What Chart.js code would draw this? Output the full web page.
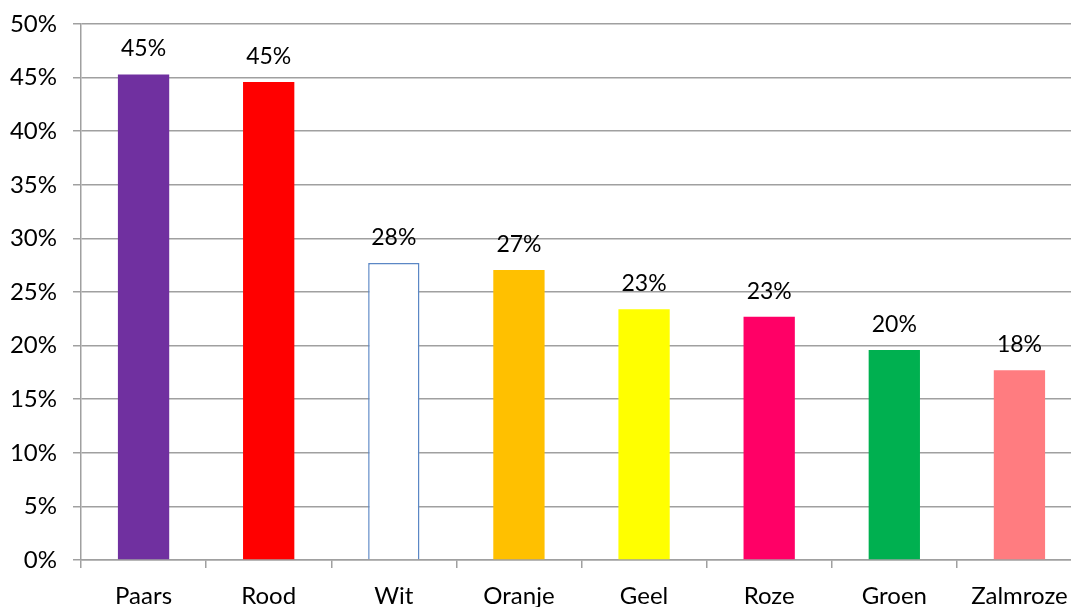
<!DOCTYPE html>
<html>
<head>
<meta charset="utf-8">
<script src="https://cdn.jsdelivr.net/npm/chart.js@4/dist/chart.umd.min.js"></script>
<style>
  html, body { margin: 0; padding: 0; background: #fff; overflow: hidden; }
  #wrap { width: 1082px; height: 607px; }
</style>
</head>
<body>
<div id="wrap"><canvas id="kleur-chart"></canvas></div>
<script>
var categories = ["Paars", "Rood", "Wit", "Oranje", "Geel", "Roze", "Groen", "Zalmroze"];
var percentages = [45.3, 44.6, 27.7, 27.05, 23.4, 22.7, 19.6, 17.7];
var valueLabels = ["45%", "45%", "28%", "27%", "23%", "23%", "20%", "18%"];
var barColors = ["#7030a0", "#ff0000", "#ffffff", "#ffc000", "#ffff00", "#ff0066", "#00b050", "#ff7c80"];
var borderColors = ["#7030a0", "#ff0000", "#5b87c5", "#ffc000", "#ffff00", "#ff0066", "#00b050", "#ff7c80"];

var font = "Lato, 'Open Sans', sans-serif";

// draws the percentage above each bar
var barLabels = {
  id: "barLabels",
  afterDatasetsDraw: function (chart) {
    var ctx = chart.ctx;
    var meta = chart.getDatasetMeta(0);
    ctx.save();
    ctx.fillStyle = "#000";
    ctx.font = "23px " + font;
    ctx.textAlign = "center";
    ctx.textBaseline = "alphabetic";
    meta.data.forEach(function (bar, i) {
      ctx.fillText(valueLabels[i], bar.x, bar.y - 18);
    });
    ctx.restore();
  },
};

var kleurChart = new Chart(document.getElementById("kleur-chart"), {
  type: "bar",
  data: {
    labels: categories,
    datasets: [
      {
        data: percentages,
        backgroundColor: barColors,
        borderColor: borderColors,
        borderWidth: function (c) { return c.dataIndex === 2 ? 1.5 : 0; },
        categoryPercentage: 1,
        barPercentage: 0.41,
      },
    ],
  },
  plugins: [barLabels],
  options: {
    responsive: true,
    maintainAspectRatio: false,
    animation: false,
    layout: { padding: { top: 24, right: 0, left: 0, bottom: 0 } },
    plugins: {
      legend: { display: false },
      tooltip: { enabled: false },
    },
    scales: {
      y: {
        min: 0,
        max: 50,
        ticks: {
          stepSize: 5,
          color: "#000",
          font: { size: 24, family: font },
          padding: 16,
          callback: function (v) { return v + "%"; },
        },
        grid: { color: "#a0a0a0", lineWidth: 1.5, tickLength: 8, drawTicks: true },
        border: { color: "#a0a0a0", width: 1.5 },
        afterFit: function (s) { s.width = 81; s.paddingTop = 0; s.paddingBottom = 0; },
      },
      x: {
        offset: true,
        ticks: {
          color: "#000",
          font: { size: 24, family: font },
          padding: 14,
          maxRotation: 0,
          autoSkip: false,
        },
        grid: { display: true, drawOnChartArea: false, offset: true, color: "#a0a0a0", lineWidth: 1.5, tickLength: 8 },
        border: { color: "#a0a0a0", width: 1.5 },
        afterFit: function (s) { s.height = 47; },
      },
    },
  },
});
</script>
</body>
</html>
